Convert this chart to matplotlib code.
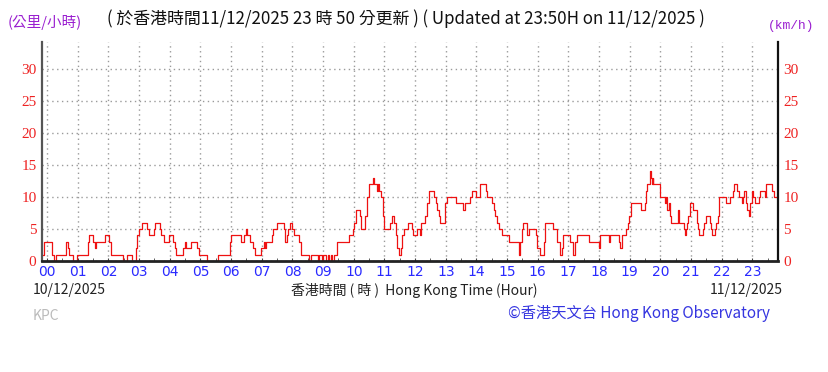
"""
Hong Kong Observatory style 10-min mean wind speed chart (KPC station)
"""
import matplotlib
matplotlib.use("Agg")
import matplotlib.pyplot as plt
import numpy as np

# change points: minutes after 00:00 on 10/12/2025, wind speed (km/h) from that minute on
change_minutes = [
    -10, -6, 10, 14, 17, 37, 41, 43, 51, 58,
    80, 82, 90, 94, 96, 113, 121, 125, 148, 156, 167, 174, 176, 179,
    185, 196, 200, 209, 211, 220, 223, 228, 238,
    246, 250, 253, 266, 270, 271, 281, 294, 297,
    312, 335, 358,
    360, 379, 385, 390, 392, 396, 402, 407, 418,
    425, 427, 429, 440, 442, 450, 463, 465, 470, 472, 475,
    480, 483, 493, 496, 513, 516, 530, 532, 537, 539,
    546, 549, 552, 555, 558, 561, 568, 590, 598,
    600, 605, 612, 615, 622, 626, 629, 637, 639, 645, 648, 650, 654, 657, 659,
    671, 675, 679, 682, 685, 688, 692, 695, 698, 706, 713, 715,
    724, 730, 732, 740, 743, 747, 757, 761, 763, 766, 769, 779,
    782, 800, 814, 817, 828, 832,
    840, 847, 858, 861, 870, 874, 877, 880, 885, 890,
    903, 923, 926, 929, 932, 939, 942, 957, 959,
    964, 972, 975, 989, 998, 1003, 1007, 1009,
    1024, 1029, 1033, 1036, 1060, 1079,
    1082, 1099, 1102, 1119, 1121, 1125, 1133, 1136, 1139,
    1143, 1161, 1170, 1172, 1174, 1179, 1181, 1183, 1185, 1186, 1199,
    1208, 1210, 1213, 1216, 1218, 1221, 1235, 1237, 1246, 1248, 1250, 1252, 1254, 1257,
    1264, 1272, 1274, 1276, 1284, 1286, 1289, 1296, 1298, 1300, 1307, 1309, 1312, 1315,
    1329, 1336, 1341, 1344, 1350, 1353, 1359, 1361, 1363, 1367, 1368, 1370, 1373, 1376,
    1380, 1382, 1385, 1392, 1395, 1405, 1407, 1418, 1422, 1430,
]
wind_kmh = [
    1, 3, 1, 0, 1, 3, 2, 1, 0, 1,
    3, 4, 3, 2, 3, 4, 3, 1, 0, 1, 0, 2, 4, 5,
    6, 5, 4, 5, 6, 5, 4, 3, 4,
    3, 2, 1, 2, 3, 2, 3, 2, 1,
    0, 1, 3,
    4, 3, 4, 5, 4, 3, 2, 1, 2,
    3, 2, 3, 4, 5, 6, 5, 3, 4, 5, 6,
    5, 4, 3, 1, 0, 1, 0, 1, 0, 1,
    0, 1, 0, 1, 0, 1, 3, 4, 5,
    6, 8, 7, 5, 7, 10, 12, 13, 12, 11, 12, 11, 10, 7, 5,
    6, 7, 6, 4, 2, 1, 2, 4, 5, 6, 5, 4,
    5, 4, 6, 7, 9, 11, 10, 9, 8, 7, 6, 9,
    10, 9, 8, 9, 10, 11,
    10, 12, 11, 10, 9, 8, 7, 6, 5, 4,
    3, 1, 3, 5, 6, 4, 5, 4, 2,
    1, 3, 6, 5, 3, 1, 2, 4,
    3, 1, 3, 4, 3, 2,
    4, 3, 4, 3, 2, 4, 5, 6, 7,
    9, 8, 9, 11, 12, 14, 13, 12, 13, 12, 10,
    9, 10, 8, 9, 7, 6, 8, 6, 5, 4, 5, 6, 7, 9,
    8, 6, 5, 4, 5, 6, 7, 6, 5, 4, 5, 6, 7, 10,
    9, 10, 11, 12, 11, 10, 9, 10, 11, 10, 9, 8, 7, 9,
    11, 10, 9, 10, 11, 10, 12, 11, 10, 10,
]
hour_labels = ["%02d" % h for h in range(24)]
speed_ticks = [0, 5, 10, 15, 20, 25, 30]

W, H = 829, 372
fig = plt.figure(figsize=(W / 100, H / 100), dpi=100)
ax = fig.add_axes([42 / W, 1 - 261 / H, (778 - 42) / W, (261 - 42) / H])

ax.plot(change_minutes, wind_kmh, drawstyle="steps-post", color="#ee1111", lw=0.9)

ax.set_xlim(-10, 1430)
ax.set_ylim(0, 34.2)

ax.set_xticks(np.arange(24) * 60)
ax.set_xticklabels(hour_labels)
ax.set_xticks(np.arange(24) * 60 + 30, minor=True)
ax.set_yticks(speed_ticks)
ax.set_yticklabels([str(v) for v in speed_ticks], family="Liberation Serif")

ax.tick_params(axis="x", which="both", direction="in", length=2, color="#444444",
               labelcolor="#2a2aff", labelsize=10, pad=3)
ax.tick_params(axis="y", direction="in", length=0, labelcolor="#ee2222",
               labelsize=11, labelleft=True, labelright=True, pad=4)

ax.grid(True, color="#9a9a9a", linestyle=(0, (1, 2.5)), linewidth=1)

ax.spines["top"].set_visible(False)
ax.spines["left"].set_color("#555555")
ax.spines["left"].set_linewidth(1.6)
ax.spines["right"].set_color("#111111")
ax.spines["right"].set_linewidth(1.6)
ax.spines["bottom"].set_color("#222222")
ax.spines["bottom"].set_linewidth(2)

cjk = ["Noto Sans CJK TC", "DejaVu Sans"]


def put(x, y, s, **kw):
    fig.text(x / W, 1 - y / H, s, va="center", **kw)


put(406, 19, "( 於香港時間11/12/2025 23 時 50 分更新 ) ( Updated at 23:50H on 11/12/2025 )",
    ha="center", fontsize=12.2, color="#111111", family=cjk)
put(8, 23, "(公里/小時)", ha="left", fontsize=10.5, color="#9a1fd0", family=cjk)
put(768, 26, "(km/h)", ha="left", fontsize=9.3, color="#9a1fd0", family="Liberation Mono")

put(33, 290, "10/12/2025", ha="left", fontsize=10, color="#222222", family=cjk)
put(414, 290, "香港時間 ( 時 )  Hong Kong Time (Hour)", ha="center", fontsize=10,
    color="#222222", family=cjk)
put(783, 290, "11/12/2025", ha="right", fontsize=10, color="#222222", family=cjk)
put(33, 316, "KPC", ha="left", fontsize=10, color="#bbbbbb", family=cjk)
put(770, 313, "©香港天文台 Hong Kong Observatory", ha="right", fontsize=11,
    color="#3535e0", family=cjk)

fig.savefig("out.png", dpi=100)
